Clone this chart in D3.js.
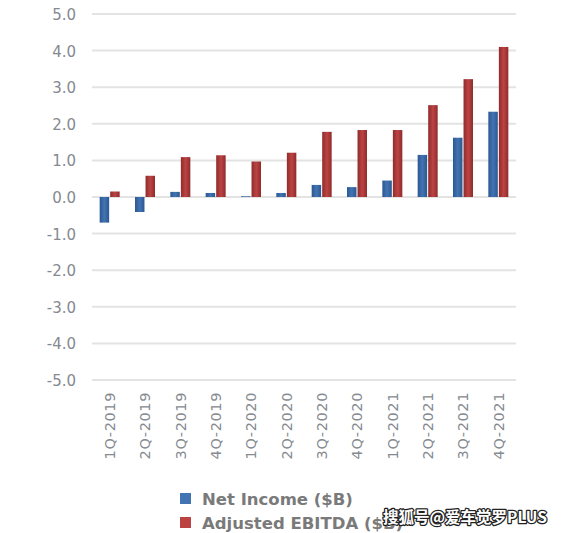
<!DOCTYPE html>
<html><head><meta charset="utf-8">
<script src="https://cdn.jsdelivr.net/npm/d3@7"></script>
<style>body{margin:0;background:#fff}svg{display:block}</style>
</head><body>
<svg id="c" width="561" height="533"></svg>
<script>
const categories = ["1Q-2019","2Q-2019","3Q-2019","4Q-2019","1Q-2020","2Q-2020","3Q-2020","4Q-2020","1Q-2021","2Q-2021","3Q-2021","4Q-2021"];
const netIncome = [-0.70,-0.41,0.14,0.11,0.02,0.11,0.33,0.27,0.45,1.15,1.62,2.33];
const adjEbitda = [0.15,0.58,1.09,1.14,0.97,1.21,1.78,1.83,1.83,2.51,3.22,4.10];
const yTicks = [5,4,3,2,1,0,-1,-2,-3,-4,-5];
const yTickLabels = ["5.0","4.0","3.0","2.0","1.0","0.0","-1.0","-2.0","-3.0","-4.0","-5.0"];
const seriesNames = ["Net Income ($B)","Adjusted EBITDA ($B)"];
const watermark = "搜狐号@爱车觉罗PLUS";

(function(){
const svg = d3.select("#c");
const pl = 92, pr = 516, pt = 14, pb = 380;
const y = d3.scaleLinear().domain([-5,5]).range([pb, pt]);
const x = d3.scaleBand().domain(categories).range([pl, pr]).paddingInner(0).paddingOuter(0);
const sub = d3.scaleBand().domain([0,1]).range([x.bandwidth()/2 - 10, x.bandwidth()/2 + 10]).paddingInner(0.1);

const defs = svg.append("defs");
function grad(id, edge, mid){
  const g = defs.append("linearGradient").attr("id", id).attr("x1","0").attr("x2","1").attr("y1","0").attr("y2","0");
  g.append("stop").attr("offset","0").attr("stop-color", edge);
  g.append("stop").attr("offset","0.5").attr("stop-color", mid);
  g.append("stop").attr("offset","1").attr("stop-color", edge);
}
grad("gb", "#2c5891", "#4273b3");
grad("gr", "#8e2c2c", "#bd4343");

svg.append("g").selectAll("line").data(yTicks).join("line")
  .attr("x1", pl).attr("x2", pr)
  .attr("y1", d => y(d)).attr("y2", d => y(d))
  .attr("stroke", "#e3e3e3").attr("stroke-width", 2);

const yAxis = d3.axisLeft(y).tickValues(yTicks)
  .tickFormat((d,i) => yTickLabels[i]).tickSize(0).tickPadding(0);
const ya = svg.append("g").attr("transform", `translate(76,0)`).call(yAxis);
ya.select(".domain").remove();
ya.selectAll("text").attr("font-family","'DejaVu Sans', sans-serif").attr("font-size", 15)
  .attr("fill", "#858a90").attr("dy","0.36em");

const groups = svg.append("g").selectAll("g").data(categories).join("g")
  .attr("transform", d => `translate(${x(d)},0)`);
groups.append("rect")
  .attr("x", sub(0)).attr("width", sub.bandwidth())
  .attr("y", (d,i) => y(Math.max(0, netIncome[i])))
  .attr("height", (d,i) => Math.abs(y(netIncome[i]) - y(0)))
  .attr("fill", "url(#gb)");
groups.append("rect")
  .attr("x", sub(1)).attr("width", sub.bandwidth())
  .attr("y", (d,i) => y(Math.max(0, adjEbitda[i])))
  .attr("height", (d,i) => Math.abs(y(adjEbitda[i]) - y(0)))
  .attr("fill", "url(#gr)");

const xAxis = d3.axisBottom(x).tickSize(0).tickPadding(0);
const xa = svg.append("g").attr("transform", `translate(0,392)`).call(xAxis);
xa.select(".domain").remove();
xa.selectAll("text")
  .attr("font-family","'DejaVu Sans', sans-serif").attr("font-size", 14.5)
  .attr("letter-spacing", "0.6px")
  .attr("fill", "#858a90")
  .attr("transform", "rotate(-90)")
  .attr("text-anchor", "end").attr("x", 0).attr("y", 0).attr("dy", "0.36em");

const colors = ["#4273b3", "#bd4343"];
const lg = svg.append("g");
seriesNames.forEach((n, i) => {
  const yy = 493 + i * 24;
  lg.append("rect").attr("x", 180).attr("y", yy).attr("width", 11).attr("height", 11).attr("fill", colors[i]);
  lg.append("text").attr("x", 202).attr("y", yy + 12).text(n)
    .attr("font-family","'DejaVu Sans', sans-serif").attr("font-weight","bold")
    .attr("font-size", 16.5).attr("fill", "#7a7a7a");
});

svg.append("text").attr("x", 383).attr("y", 523).text(watermark)
  .attr("font-family","'Noto Sans CJK SC', sans-serif").attr("font-size", 15.5).attr("font-weight", "bold")
  .attr("fill", "#fff").attr("stroke", "#222").attr("stroke-width", 2.5)
  .attr("paint-order", "stroke").attr("stroke-linejoin","round");
})();
</script>
</body></html>
